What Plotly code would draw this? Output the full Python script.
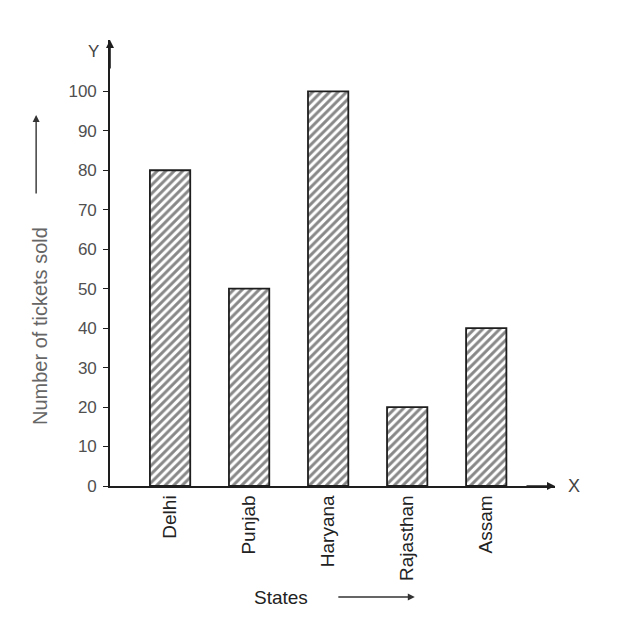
import plotly.graph_objects as go

states = ["Delhi", "Punjab", "Haryana", "Rajasthan", "Assam"]
tickets = [80, 50, 100, 20, 40]
y_ticks = [0, 10, 20, 30, 40, 50, 60, 70, 80, 90, 100]

txt = "#444"
ink = "#1e1e1e"

fig = go.Figure(go.Bar(
    x=states,
    y=tickets,
    width=0.51,
    marker=dict(
        color="white",
        line=dict(color=ink, width=1.8),
        pattern=dict(shape="/", fgcolor="#111", bgcolor="white", size=6, solidity=0.5),
    ),
))

# page body has an 8px margin, so the figure is 8px smaller than the window
fig.update_layout(
    width=624, height=620,
    margin=dict(l=102, r=77, t=32, b=142),
    paper_bgcolor="white", plot_bgcolor="white",
    showlegend=False,
    font=dict(family="Liberation Sans, Arial, sans-serif", color=txt, size=16),
    xaxis=dict(
        range=[-0.76, 4.87],
        showline=True, linecolor=ink, linewidth=1.6,
        showgrid=False, zeroline=False,
        ticks="", tickangle=-90, tickfont=dict(size=19, color="#222"),
    ),
    yaxis=dict(
        range=[0, 113], tickvals=y_ticks,
        showline=True, linecolor=ink, linewidth=1.6,
        showgrid=False, zeroline=False,
        ticks="outside", ticklen=5, tickcolor=ink, ticklabelstandoff=3,
        tickfont=dict(size=17, color="#505050"),
    ),
)

# axis arrowheads
fig.add_annotation(x=1, y=0, xref="paper", yref="paper", ax=-30, ay=0,
                   text="", showarrow=True, arrowhead=2, arrowsize=1,
                   arrowwidth=1.6, arrowcolor=ink)
fig.add_annotation(x=0, y=1, xref="paper", yref="paper", ax=0, ay=30,
                   text="", showarrow=True, arrowhead=2, arrowsize=1,
                   arrowwidth=1.6, arrowcolor=ink)
fig.add_annotation(x=1, y=0, xref="paper", yref="paper", xanchor="left",
                   yanchor="middle", xshift=11, text="X", showarrow=False,
                   font=dict(size=18, color=txt))
fig.add_annotation(x=0, y=1, xref="paper", yref="paper", xanchor="right",
                   yanchor="middle", xshift=-9, yshift=-11, text="Y",
                   showarrow=False, font=dict(size=17, color=txt))

# y title and arrow
fig.add_annotation(x=-0.157, y=0.359, xref="paper", yref="paper",
                   xanchor="center", yanchor="middle",
                   text="Number of tickets sold", textangle=-90, showarrow=False,
                   font=dict(size=20, color="#666"))
fig.add_annotation(x=-0.166, y=0.832, xref="paper", yref="paper", ax=0, ay=80,
                   text="", showarrow=True, arrowhead=2, arrowsize=1,
                   arrowwidth=1.4, arrowcolor="#333")

# x title and arrow
fig.add_annotation(x=0.384, y=-0.251, xref="paper", yref="paper",
                   xanchor="center", yanchor="middle",
                   text="States", showarrow=False, font=dict(size=19, color="#222"))
fig.add_annotation(x=0.685, y=-0.249, xref="paper", yref="paper", ax=-78, ay=0,
                   text="", showarrow=True, arrowhead=2, arrowsize=1,
                   arrowwidth=1.4, arrowcolor="#333")

fig.write_html("out.html")
